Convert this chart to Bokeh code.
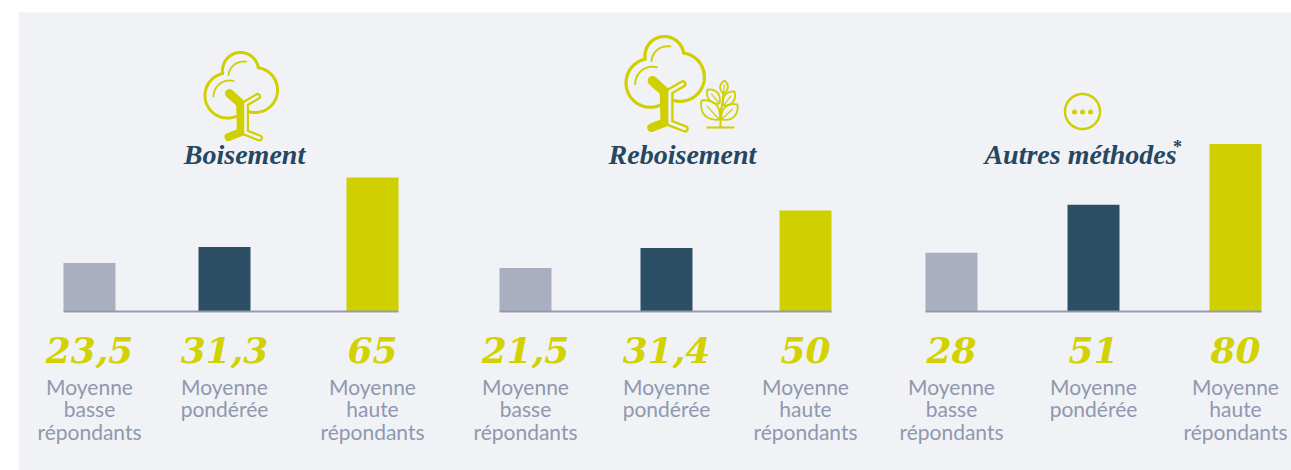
import numpy as np
from bokeh.embed import file_html
from bokeh.resources import INLINE
from bokeh.plotting import figure
from bokeh.models import Range1d
from bokeh.core.properties import value

# --- data ---
titles = ["Boisement", "Reboisement", "Autres méthodes"]
categories_boisement = ["Moyenne\nbasse\nrépondants", "Moyenne\npondérée", "Moyenne\nhaute\nrépondants"]
categories_reboisement = ["Moyenne\nbasse\nrépondants", "Moyenne\npondérée", "Moyenne\nhaute\nrépondants"]
categories_autres = ["Moyenne\nbasse\nrépondants", "Moyenne\npondérée", "Moyenne\nhaute\nrépondants"]
values_boisement = [23.5, 31.3, 65]
values_reboisement = [21.5, 31.4, 50]
values_autres = [28, 51, 80]
labels_boisement = ["23,5", "31,3", "65"]
labels_reboisement = ["21,5", "31,4", "50"]
labels_autres = ["28", "51", "80"]

# --- layout (page pixels) ---
W, H = 1291, 470
BASE = 311
BAR_W = 52
YEL, NAVY, GREY = "#d0cf00", "#2d4f66", "#a9afbe"
BG = "#f0f2f6"
LINE = "#8f97ad"
TXT = "#8f98ae"
TITLE = "#26475f"
colors = [GREY, NAVY, YEL]
panels = [
    (values_boisement, labels_boisement, categories_boisement, [89, 224, 372], 2.06, 244),
    (values_reboisement, labels_reboisement, categories_reboisement, [525, 666, 805], 2.02, 682),
    (values_autres, labels_autres, categories_autres, [951, 1093, 1235], 2.095, 1080),
]

p = figure(width=W, height=H, output_backend="svg", toolbar_location=None,
           x_range=Range1d(0, W), y_range=Range1d(H, 0),
           min_border=0, outline_line_color=None, background_fill_color="white",
           border_fill_color="white")
p.axis.visible = False
p.grid.visible = False

p.quad(left=[18], right=[W], top=[12], bottom=[H], fill_color=BG, line_color=None)

for i, (vals, labs, cats, xs, scale, tx) in enumerate(panels):
    name = f"panel{i}"
    p.extra_y_ranges[name] = Range1d((BASE - H) / scale, BASE / scale)
    left = [x - BAR_W / 2 for x in xs]
    right = [x + BAR_W / 2 for x in xs]
    p.quad(left=left, right=right, bottom=[0] * 3, top=vals, fill_color=colors,
           line_color=None, y_range_name=name)
    p.line([left[0], right[-1]], [0, 0], line_color=LINE, line_width=2, line_alpha=0.95, y_range_name=name)
    p.text(x=xs, y=[349] * 3, text=labs, text_align="center", text_baseline="middle",
           text_font=value("DejaVu Serif"), text_font_size="36px", text_font_style="bold italic",
           text_color="#d2d200")
    p.text(x=xs, y=[373] * 3, text=cats, text_align="center", text_baseline="top",
           text_font=value("Lato"), text_font_size="21px", text_color=TXT, text_line_height=0.9)
    p.text(x=[tx], y=[154], text=[titles[i]], text_align="center", text_baseline="middle",
           text_font=value("Liberation Serif"), text_font_size="28px", text_font_style="bold italic",
           text_color=TITLE)

p.text(x=[1177], y=[146], text=["*"], text_align="center", text_baseline="middle",
       text_font=value("Liberation Serif"), text_font_size="18px", text_font_style="bold", text_color=TITLE)


def arc(cx, cy, r, a0, a1, n=40):
    t = np.radians(np.linspace(a0, a1, n))
    return cx + r * np.cos(t), cy + r * np.sin(t)


def tree(ox, oy, s):
    """Tree pictogram; local units are pixels of the smaller tree."""
    T = lambda x, y: (ox + s * np.asarray(x, float), oy + s * np.asarray(y, float))
    circles = [(36, 18, 18), (23, 43, 22.5), (50.5, 37.5, 22.5)]
    for k, (cx, cy, r) in enumerate(circles):
        x, y = arc(cx, cy, r, 0, 360, 240)
        keep = np.ones_like(x, bool)
        for j, (c2x, c2y, r2) in enumerate(circles):
            if j != k:
                keep &= np.hypot(x - c2x, y - c2y) > r2
        keep &= ~((x > 31) & (x < 44) & (y > 50))
        x = np.where(keep, x, np.nan)
        y = np.where(keep, y, np.nan)
        p.line(*T(x, y), line_color=YEL, line_width=3 * s, line_cap="round")
    for cx, cy, r, a0, a1 in [(25, 44, 16, 180, 285), (39, 24, 15, 185, 280)]:
        p.line(*T(*arc(cx, cy, r, a0, a1)), line_color=YEL, line_width=1.8 * s, line_cap="round")
    # solid left part of trunk
    p.line(*T([25, 35], [41, 50]), line_color=YEL, line_width=9 * s, line_cap="round")
    p.line(*T([35.5, 36.5], [48, 82]), line_color=YEL, line_width=8 * s)
    p.line(*T([24, 38], [84.5, 79]), line_color=YEL, line_width=8 * s, line_cap="round")
    # hollow right part of trunk
    xs_, ys_ = [53, 41, 41, 55], [44, 51, 80, 85.5]
    p.line(*T(xs_, ys_), line_color=YEL, line_width=7 * s, line_cap="round", line_join="round")
    p.line(*T(xs_, ys_), line_color=BG, line_width=2.6 * s, line_cap="round", line_join="round")


tree(204, 52, 1.0)
tree(625, 36, 1.08)


def leaf(bx, by, tipx, tipy, w=0.3):
    d = np.array([tipx - bx, tipy - by], float)
    n = np.array([-d[1], d[0]])
    t = np.linspace(0, 1, 16)
    bulge = w * np.sin(np.pi * t) ** 0.8
    x1 = bx + d[0] * t + n[0] * bulge
    y1 = by + d[1] * t + n[1] * bulge
    x2 = bx + d[0] * t - n[0] * bulge
    y2 = by + d[1] * t - n[1] * bulge
    p.line(np.r_[x1, x2[::-1]], np.r_[y1, y2[::-1]], line_color=YEL, line_width=1.8)
    p.line([bx, bx + d[0] * .7], [by, by + d[1] * .7], line_color=YEL, line_width=1.2)


p.line([706, 734], [127, 127], line_color=YEL, line_width=2)
p.line([720, 720, 722, 723], [127, 112, 102, 92], line_color=YEL, line_width=2)
for b in [(719, 119, 701, 100), (721, 119, 737, 104), (719, 103, 707, 89), (723, 105, 734, 91), (723, 93, 724, 80)]:
    leaf(*b)

# "other methods" pictogram
p.line(*arc(1082, 111, 17.5, 0, 360, 80), line_color=YEL, line_width=2.5)
p.scatter([1074, 1082, 1090], [111.5] * 3, size=5, marker="circle", fill_color=YEL, line_color=None)

open("out.html", "w").write(file_html(p, INLINE))
